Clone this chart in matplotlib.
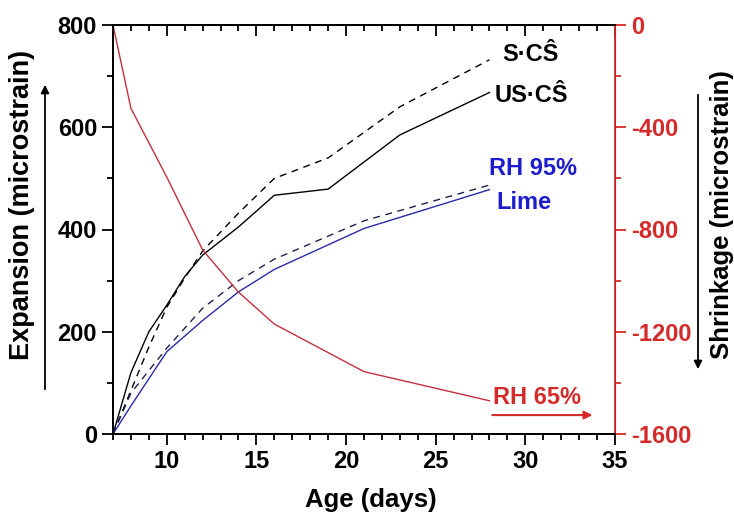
import matplotlib
matplotlib.use('Agg')
import matplotlib.pyplot as plt
from matplotlib.ticker import MultipleLocator

plt.rcParams['font.family'] = ['Liberation Sans', 'DejaVu Sans']
plt.rcParams['font.weight'] = 'bold'
plt.rcParams['axes.unicode_minus'] = False

# expansion, left axis (microstrain)
age_us = [7, 8, 9, 10, 11, 12, 14, 16, 19, 23, 28]
us_cs = [0, 120, 200, 252, 308, 350, 405, 467, 479, 585, 668]
age_s = [7, 8, 9, 10, 11, 12, 14, 16, 19, 23, 28]
s_cs = [0, 85, 170, 248, 305, 358, 432, 500, 540, 640, 732]
age_lime = [7, 8, 10, 12, 14, 16, 21, 28]
lime = [0, 55, 161, 222, 278, 322, 402, 478]
lime_dash = [0, 80, 168, 246, 300, 342, 417, 487]

# shrinkage, right axis (microstrain)
age_rh65 = [7, 8, 10, 12, 14, 16, 21, 28]
rh65 = [0, -326, -595, -880, -1045, -1170, -1356, -1470]

RED = '#d42a2a'
LINE_RED = '#c23040'
BLUE = '#2a2aa8'
TXT_BLUE = '#1c1ccc'

fig = plt.figure(figsize=(7.34, 5.15), dpi=100)
ax = fig.add_axes([113 / 734, 1 - 434 / 515, 502 / 734, 409 / 515])
ax2 = ax.twinx()

ax.plot(age_s, s_cs, color='black', lw=1.0, dashes=(5, 4))
ax.plot(age_us, us_cs, color='black', lw=1.0)
ax.plot(age_lime, lime_dash, color='#202050', lw=1.0, dashes=(5, 4))
ax.plot(age_lime, lime, color=BLUE, lw=1.0)
ax2.plot(age_rh65, rh65, color=LINE_RED, lw=1.0)

ax.set_xlim(7, 35)
ax.set_ylim(0, 800)
ax2.set_ylim(-1600, 0)

ax.set_xticks([10, 15, 20, 25, 30, 35])
ax.xaxis.set_minor_locator(MultipleLocator(1))
ax.yaxis.set_major_locator(MultipleLocator(200))
ax.yaxis.set_minor_locator(MultipleLocator(100))
ax2.yaxis.set_major_locator(MultipleLocator(400))
ax2.yaxis.set_minor_locator(MultipleLocator(200))

ax.tick_params(axis='both', which='both', direction='out', labelsize=17, width=1.3)
ax.tick_params(axis='both', which='major', length=8)
ax.tick_params(axis='both', which='minor', length=4)

# top axis: inward ticks, no labels
sec = ax.secondary_xaxis('top')
sec.set_xticks([10, 15, 20, 25, 30, 35])
sec.xaxis.set_minor_locator(MultipleLocator(1))
sec.tick_params(axis='x', which='both', direction='in', labeltop=False, width=1.3)
sec.tick_params(axis='x', which='major', length=8)
sec.tick_params(axis='x', which='minor', length=4)
sec.spines['top'].set_linewidth(1.3)

ax2.tick_params(axis='y', which='both', direction='out', colors=RED, labelsize=17, width=1.3)
ax2.tick_params(axis='y', which='major', length=8)
ax2.tick_params(axis='y', which='minor', length=4)
ax2.spines['right'].set_color(RED)
for sp in ['left', 'bottom', 'top']:
    ax.spines[sp].set_linewidth(1.3)
    ax2.spines[sp].set_linewidth(1.3)
ax2.spines['right'].set_linewidth(1.3)

# series labels
ax.text(28.7, 742, 'S·CŜ', fontsize=17, fontweight='bold', va='center', ha='left')
ax.text(28.3, 663, 'US·CŜ', fontsize=17, fontweight='bold', va='center', ha='left')
ax.text(28.0, 520, 'RH 95%', fontsize=17, fontweight='bold', va='center', ha='left', color=TXT_BLUE)
ax.text(28.4, 452, 'Lime', fontsize=17, fontweight='bold', va='center', ha='left', color=TXT_BLUE)
ax.text(28.2, 72, 'RH 65%', fontsize=17, fontweight='bold', va='center', ha='left', color=RED)
ax.annotate('', xy=(33.9, 37), xytext=(28.0, 37),
            arrowprops=dict(arrowstyle='-|>', color=RED, lw=1.5, mutation_scale=12))

# axis labels with direction arrows
fig.text(22 / 734, 1 - 205 / 515, 'Expansion (microstrain)', rotation=90,
         fontsize=19.5, fontweight='bold', ha='center', va='center')
fig.text(722 / 734, 1 - 215 / 515, 'Shrinkage (microstrain)', rotation=90,
         fontsize=18.5, fontweight='bold', ha='center', va='center')
fig.text(371 / 734, 1 - 500 / 515, 'Age (days)', fontsize=18.5, fontweight='bold',
         ha='center', va='center')
fig.add_artist(matplotlib.patches.FancyArrowPatch(
    (45 / 734, 1 - 392 / 515), (45 / 734, 1 - 82 / 515), transform=fig.transFigure,
    arrowstyle='-|>', mutation_scale=12, color='black', lw=1.3))
fig.add_artist(matplotlib.patches.FancyArrowPatch(
    (698 / 734, 1 - 92 / 515), (698 / 734, 1 - 372 / 515), transform=fig.transFigure,
    arrowstyle='-|>', mutation_scale=12, color='black', lw=1.3))

fig.savefig('out.png', dpi=100)
